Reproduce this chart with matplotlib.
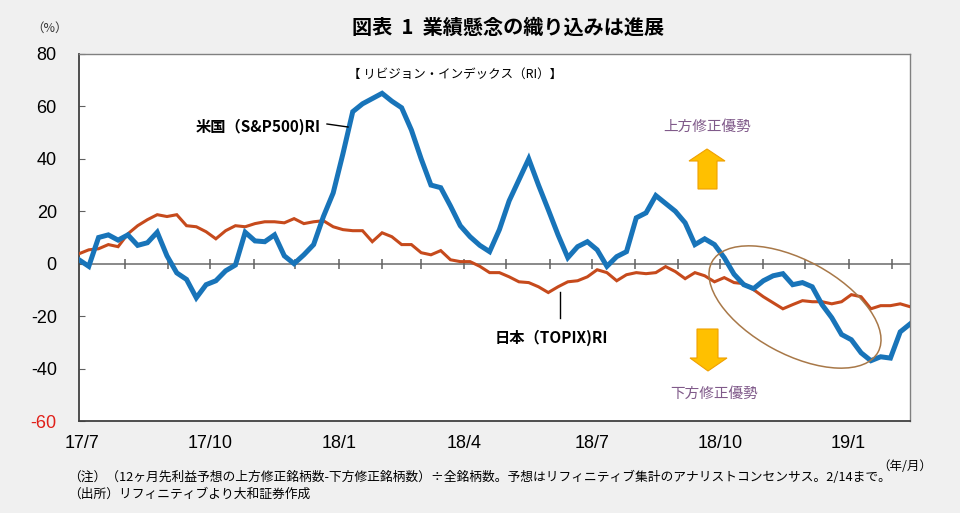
import matplotlib
matplotlib.use('Agg')
import matplotlib.pyplot as plt
import pandas as pd
from matplotlib.patches import Ellipse, Polygon
from matplotlib.lines import Line2D

# ---------------- data ----------------
start_date = '2017-06-29'
us_ri = [1.5, -1, 10, 11, 9, 11, 7, 8, 12, 3,
         -3.5, -6, -13, -8, -6.5, -2.7, -0.5, 12, 8.7, 8.4,
         11, 3, 0, 3.4, 7.3, 18, 27, 42, 58, 61,
         63, 65, 62, 59.5, 51, 40, 30, 29, 22, 14.5,
         10.3, 7, 4.6, 13, 24, 32, 40, 30, 20.6, 11,
         2.3, 6.5, 8.4, 5.3, -1, 2.7, 4.6, 17.5, 19.4, 26,
         23, 20, 15.6, 7.3, 9.5, 7.3, 2.3, -4, -8, -9.5,
         -6.5, -4.6, -3.8, -8, -7.2, -8.8, -15.6, -20.6, -27, -29,
         -34, -37, -35.5, -36, -26, -23]
jp_ri = [3.8, 5.3, 5.7, 7.3, 6.5, 11.4, 14.5, 16.8, 18.7, 18,
         18.7, 14.5, 14.1, 12.2, 9.5, 12.6, 14.5, 14.1, 15.3, 16,
         16, 15.6, 17.2, 15.3, 16, 16.4, 14.1, 13, 12.6, 12.6,
         8.4, 11.8, 10.3, 7.3, 7.3, 4.2, 3.4, 5, 1.5, 0.8,
         0.8, -1, -3.4, -3.4, -5, -6.9, -7.2, -8.8, -11, -8.8,
         -6.9, -6.5, -5, -2.3, -3.4, -6.5, -4.2, -3.4, -3.8, -3.4,
         -1.1, -3, -5.7, -3.4, -4.6, -6.9, -5.3, -7.2, -7.6, -9.9,
         -12.6, -14.9, -17.2, -15.6, -14.1, -14.5, -14.5, -15.3, -14.5, -11.8,
         -12.6, -17.2, -16, -16, -15.3, -16.4]
x_labels = ['17/7', '17/10', '18/1', '18/4', '18/7', '18/10', '19/1']
x_label_dates = ['2017-07-01', '2017-10-01', '2018-01-01', '2018-04-01',
                 '2018-07-01', '2018-10-01', '2019-01-01']
y_ticks = [-60, -40, -20, 0, 20, 40, 60, 80]

dates = pd.date_range(start_date, periods=len(us_ri), freq='7D')
month_ticks = pd.date_range('2017-08-01', '2019-02-01', freq='MS')

# ---------------- figure ----------------
W, H = 960, 513
CJK = ['Noto Sans CJK JP', 'DejaVu Sans']
NARROW = ['Liberation Sans Narrow', 'Liberation Sans', 'DejaVu Sans']
fig = plt.figure(figsize=(9.6, 5.13), dpi=100, facecolor='#F0F0F0')
ax = fig.add_axes([79 / W, 1 - 421 / H, (910 - 79) / W, (421 - 54) / H])
ax.set_facecolor('white')


def P(x, y):
    return (x / W, 1 - y / H)


ax.axhline(0, color='#808080', lw=1.3, zorder=1)
ax.plot(month_ticks, [0] * len(month_ticks), ls='none', marker='|',
        ms=7, mew=1.1, color='#606060', zorder=1)

ax.plot(dates, jp_ri, color='#C64A1C', lw=2.2, zorder=3, solid_joinstyle='miter')
ax.plot(dates, us_ri, color='#1874B9', lw=3.6, zorder=4, solid_joinstyle='miter')

ax.set_xlim(dates[0], dates[-1])
ax.set_ylim(-60, 80)
ax.set_yticks(y_ticks)
ax.set_yticklabels([str(v) for v in y_ticks], family=NARROW, fontsize=13)
ax.tick_params(axis='y', direction='in', length=4, pad=16, color='#606060')
for lbl, v in zip(ax.get_yticklabels(), y_ticks):
    if v == -60:
        lbl.set_color('#E0201A')
ax.set_xticks(pd.to_datetime(x_label_dates))
ax.set_xticklabels(x_labels, family=NARROW, fontsize=13)
ax.tick_params(axis='x', length=0, pad=10)
for s in ['left', 'bottom']:
    ax.spines[s].set_color('#404040')
    ax.spines[s].set_linewidth(1.3)
for s in ['top', 'right']:
    ax.spines[s].set_color('#808080')
    ax.spines[s].set_linewidth(1.0)

# ---------------- texts ----------------
fig.text(*P(508, 27), '図表  1  業績懸念の織り込みは進展', family=CJK, fontsize=14.5,
         fontweight='bold', ha='center', va='center')
fig.text(*P(50, 28), '（%）', family=CJK, fontsize=9, ha='center', va='center', color='#333333')
fig.text(*P(455, 74), '【 リビジョン・インデックス（RI）】', family=CJK, fontsize=9,
         ha='center', va='center')
fig.text(*P(321, 127), '米国（S&P500)RI', family=CJK, fontsize=11, fontweight='bold',
         ha='right', va='center')
fig.add_artist(Line2D([327 / W, 348 / W], [1 - 124 / H, 1 - 127 / H], color='black', lw=1))
fig.text(*P(495, 338), '日本（TOPIX)RI', family=CJK, fontsize=11, fontweight='bold',
         ha='left', va='center')
fig.add_artist(Line2D([560 / W, 560 / W], [1 - 292 / H, 1 - 318 / H], color='black', lw=1))
fig.text(*P(707, 127), '上方修正優勢', family=CJK, fontsize=10.5, ha='center', va='center',
         color='#805A8A')
fig.text(*P(714, 394), '下方修正優勢', family=CJK, fontsize=10.5, ha='center', va='center',
         color='#805A8A')

up = [P(707, 149), P(725, 161), P(717, 161), P(717, 189), P(698, 189), P(698, 161), P(689, 161)]
dn = [P(708, 371), P(727, 358), P(718, 358), P(718, 329), P(697, 329), P(697, 358), P(690, 358)]
for pts in (up, dn):
    fig.add_artist(Polygon(pts, closed=True, facecolor='#FFC000', edgecolor='#F0A000',
                           lw=0.8, transform=fig.transFigure))

fig.add_artist(Ellipse((7.95, (H - 307) / 100), 1.89, 0.94, angle=-28.5, fill=False,
                       edgecolor='#A87848', lw=1.1, transform=fig.dpi_scale_trans))

fig.text(*P(905, 466), '（年/月）', family=CJK, fontsize=9, ha='center', va='center')
fig.text(*P(68, 477), '（注）（12ヶ月先利益予想の上方修正銘柄数-下方修正銘柄数）÷全銘柄数。'
         '予想はリフィニティブ集計のアナリストコンセンサス。2/14まで。',
         family=CJK, fontsize=9.2, ha='left', va='center')
fig.text(*P(68, 494), '（出所）リフィニティブより大和証券作成', family=CJK, fontsize=9.2,
         ha='left', va='center')

fig.savefig('out.png', dpi=100, facecolor=fig.get_facecolor())
